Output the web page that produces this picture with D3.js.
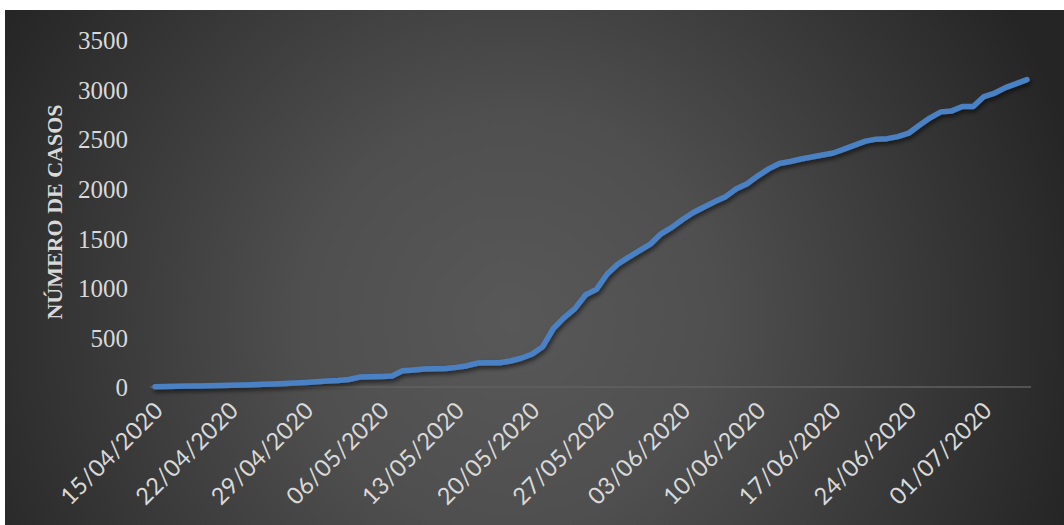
<!DOCTYPE html>
<html>
<head>
<meta charset="utf-8">
<script src="https://cdn.jsdelivr.net/npm/d3@7"></script>
<style>
  html, body { margin: 0; padding: 0; background: #ffffff; }
  svg { display: block; }
</style>
</head>
<body>
<div id="chart"></div>
<script>
    // casos acumulados, um valor por dia a partir de 15/04/2020
    var startDay = "15/04/2020";
    var casos = [
        3, 5, 7, 9, 11, 13, 15, 17, 20, 23,
        27, 31, 36, 41, 46, 53, 60, 66, 76, 100,
        104, 107, 111, 163, 172, 181, 184, 186, 198, 215,
        242, 244, 245, 262, 290, 330, 405, 590, 700, 790,
        930, 985, 1140, 1240, 1310, 1375, 1440, 1545, 1610, 1690,
        1760, 1815, 1870, 1920, 2000, 2050, 2130, 2200, 2255, 2275,
        2300, 2320, 2340, 2360, 2400, 2440, 2480, 2500, 2505, 2525,
        2560, 2640, 2715, 2775, 2785, 2830, 2830, 2930, 2965, 3020,
        3060, 3100
    ];
    var tickLabels = ["15/04/2020", "22/04/2020", "29/04/2020", "06/05/2020", "13/05/2020", "20/05/2020",
        "27/05/2020", "03/06/2020", "10/06/2020", "17/06/2020", "24/06/2020", "01/07/2020"];
    var yTicks = [0, 500, 1000, 1500, 2000, 2500, 3000, 3500];
    var yTitle = "NÚMERO DE CASOS";

    var width = 1064, height = 525;
    var parse = d3.timeParse("%d/%m/%Y");
    var fmt = d3.timeFormat("%d/%m/%Y");
    var day0 = parse(startDay);

    var points = casos.map(function(v, i) {
        return { date: d3.timeDay.offset(day0, i), value: v };
    });

    var svg = d3.select("#chart").append("svg")
        .attr("width", width)
        .attr("height", height);

    var defs = svg.append("defs");
    var grad = defs.append("radialGradient")
        .attr("id", "bg")
        .attr("gradientUnits", "userSpaceOnUse")
        .attr("cx", 510).attr("cy", 320).attr("r", 590);
    grad.append("stop").attr("offset", "0%").attr("stop-color", "#585858");
    grad.append("stop").attr("offset", "35%").attr("stop-color", "#4f4f4f");
    grad.append("stop").attr("offset", "100%").attr("stop-color", "#252525");

    var shadow = defs.append("filter").attr("id", "shadow")
        .attr("x", "-5%").attr("y", "-5%").attr("width", "110%").attr("height", "120%");
    shadow.append("feDropShadow")
        .attr("dx", 1.5).attr("dy", 3).attr("stdDeviation", 2.2)
        .attr("flood-color", "#000").attr("flood-opacity", 0.55);

    svg.append("rect")
        .attr("x", 5).attr("y", 10)
        .attr("width", width - 5).attr("height", height - 10)
        .attr("fill", "url(#bg)");

    var x = d3.scaleTime()
        .domain([points[0].date, points[points.length - 1].date])
        .range([155, 1027]);
    var y = d3.scaleLinear()
        .domain([0, 3500])
        .range([387, 40]);

    // eixo X
    var xAxis = svg.append("g")
        .attr("transform", "translate(0," + y(0) + ")")
        .call(d3.axisBottom(x)
            .tickValues(tickLabels.map(parse))
            .tickFormat(fmt)
            .tickSize(0)
            .tickSizeOuter(0));
    xAxis.select(".domain")
        .attr("d", "M150,0H1031")
        .attr("stroke", "#616161")
        .attr("stroke-width", 1.5);
    xAxis.selectAll("text")
        .attr("x", 0).attr("y", 0).attr("dy", 0)
        .attr("transform", "translate(9,25) rotate(-45)")
        .style("text-anchor", "end")
        .style("font-family", "Lato, 'Open Sans', sans-serif")
        .style("font-size", "23.5px")
        .style("letter-spacing", "0.3px")
        .style("fill", "#d9d9d9");

    // eixo Y
    var yAxis = svg.append("g")
        .attr("transform", "translate(128,0)")
        .call(d3.axisLeft(y).tickValues(yTicks).tickFormat(d3.format("d")).tickSize(0).tickPadding(0));
    yAxis.select(".domain").remove();
    yAxis.selectAll("text")
        .attr("dy", "0.35em")
        .style("font-family", "'Liberation Serif', 'DejaVu Serif', serif")
        .style("font-size", "25px")
        .style("fill", "#d9d9d9");

    svg.append("text")
        .attr("transform", "translate(62,212) rotate(-90)")
        .attr("text-anchor", "middle")
        .style("font-family", "'Liberation Serif', 'DejaVu Serif', serif")
        .style("font-weight", "bold")
        .style("font-size", "22px")
        .style("fill", "#d9d9d9")
        .text(yTitle);

    var line = d3.line()
        .x(function(d) { return x(d.date); })
        .y(function(d) { return y(d.value); });

    svg.append("path")
        .datum(points)
        .attr("d", line)
        .attr("fill", "none")
        .attr("stroke", "#4a81c4")
        .attr("stroke-width", 5.5)
        .attr("stroke-linecap", "round")
        .attr("stroke-linejoin", "round")
        .attr("filter", "url(#shadow)");
</script>
</body>
</html>
